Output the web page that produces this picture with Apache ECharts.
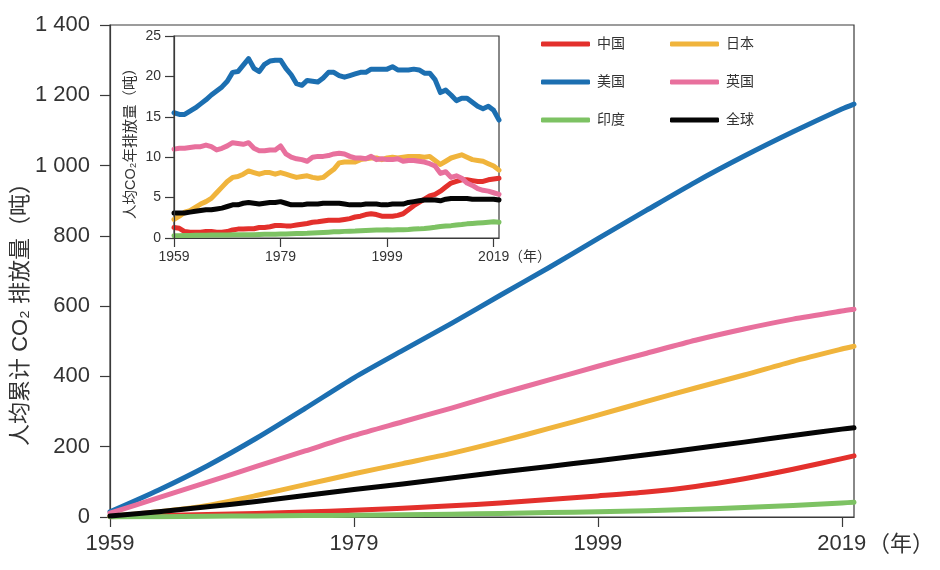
<!DOCTYPE html>
<html>
<head>
<meta charset="utf-8">
<script src="https://cdn.jsdelivr.net/npm/echarts@6/dist/echarts.min.js"></script>
<style>
html,body{margin:0;padding:0;background:#fff;}
#chart{width:940px;height:570px;}
</style>
</head>
<body>
<div id="chart"></div>
<script>
// ---------- DATA ----------
const seriesNames = ['中国', '日本', '美国', '英国', '印度', '全球'];
const seriesColors = ['#e3302c', '#f0b43c', '#1c6fb1', '#e8709d', '#7dc263', '#050505'];

// main chart: cumulative per-capita CO2 (t)
const mainYears = [1959, 1963, 1967, 1971, 1975, 1979, 1983, 1987, 1991, 1995, 1999, 2003, 2007, 2011, 2015, 2019, 2020];
const cumChina  = [1, 4, 7, 10, 14, 19, 25, 32, 40, 50, 60, 71, 87, 109, 136, 166, 174];
const cumJapan  = [2, 15, 33, 61, 92, 123, 152, 181, 215, 252, 290, 329, 367, 404, 443, 478, 486];
const cumUS     = [15, 77, 146, 224, 309, 396, 474, 551, 631, 710, 792, 873, 953, 1027, 1096, 1161, 1175];
const cumUK     = [11, 55, 99, 144, 188, 232, 271, 310, 351, 390, 429, 466, 503, 535, 563, 586, 591];
const cumIndia  = [0, 1, 2, 3, 4, 5, 6.5, 8, 10, 12.5, 15, 18, 22, 27, 33, 40, 42];
const cumGlobal = [3, 15, 29, 44, 61, 78, 94, 111, 128, 144, 160, 177, 195, 213, 232, 250, 254];

// inset: annual per-capita CO2 (t)
const annualYears = [1959,1960,1961,1962,1963,1964,1965,1966,1967,1968,1969,1970,1971,1972,1973,1974,1975,1976,1977,1978,1979,1980,1981,1982,1983,1984,1985,1986,1987,1988,1989,1990,1991,1992,1993,1994,1995,1996,1997,1998,1999,2000,2001,2002,2003,2004,2005,2006,2007,2008,2009,2010,2011,2012,2013,2014,2015,2016,2017,2018,2019,2020];
const annChina = [1.3,1.2,0.8,0.7,0.7,0.7,0.8,0.8,0.7,0.7, 0.8,1.0,1.1,1.1,1.15,1.15,1.3,1.3,1.4,1.55, 1.55,1.5,1.5,1.6,1.7,1.8,1.95,2.0,2.1,2.2, 2.2,2.2,2.3,2.4,2.6,2.7,2.9,3.0,2.9,2.7, 2.7,2.7,2.8,3.0,3.5,4.0,4.4,4.8,5.2,5.4, 5.8,6.3,6.8,7.0,7.2,7.2,7.1,7.0,7.0,7.2, 7.3,7.4];
const annJapan = [2.3,2.7,3.2,3.4,3.8,4.2,4.5,4.9,5.6,6.3, 7.0,7.5,7.6,7.9,8.3,8.1,7.9,8.1,8.1,7.9, 8.1,7.9,7.7,7.5,7.6,7.7,7.5,7.4,7.5,8.0, 8.5,9.3,9.4,9.4,9.4,9.7,9.8,9.9,9.9,9.7, 9.9,10.0,9.9,10.0,10.1,10.1,10.1,10.0,10.1,9.6, 9.1,9.5,9.9,10.1,10.3,10.0,9.7,9.6,9.5,9.2, 8.9,8.4];
const annUS = [15.5,15.3,15.3,15.7,16.1,16.6,17.1,17.7,18.2,18.7, 19.4,20.5,20.6,21.4,22.2,21.0,20.6,21.5,21.9,22.0, 22.0,21.0,20.2,19.1,18.9,19.5,19.4,19.3,19.8,20.5, 20.5,20.1,19.9,20.1,20.3,20.5,20.5,20.9,20.9,20.9, 20.9,21.2,20.8,20.8,20.8,20.9,20.8,20.4,20.4,19.6, 18.0,18.3,17.7,17.0,17.3,17.3,16.8,16.3,16.0,16.3, 15.8,14.6];
const annUK = [11.0,11.1,11.1,11.2,11.3,11.3,11.5,11.3,10.9,11.1, 11.4,11.8,11.7,11.6,11.8,11.1,10.8,10.8,10.9,10.9, 11.4,10.4,10.0,9.8,9.7,9.5,10.0,10.1,10.1,10.2, 10.4,10.5,10.4,10.1,9.9,9.9,9.8,10.1,9.7,9.8, 9.7,9.7,9.8,9.5,9.6,9.6,9.5,9.4,9.2,8.9, 8.0,8.2,7.5,7.7,7.4,6.8,6.5,6.1,5.9,5.8, 5.6,5.4];
const annIndia = [0.28,0.29,0.30,0.32,0.33,0.33,0.35,0.36,0.36,0.38, 0.38,0.39,0.39,0.40,0.41,0.41,0.44,0.45,0.47,0.47, 0.50,0.50,0.53,0.55,0.57,0.58,0.62,0.65,0.68,0.72, 0.76,0.78,0.82,0.85,0.86,0.89,0.93,0.95,0.98,0.98, 1.01,1.00,1.01,1.02,1.05,1.10,1.13,1.18,1.25,1.33, 1.43,1.48,1.53,1.62,1.66,1.75,1.80,1.85,1.90,1.95, 2.00,1.95];
const annGlobal = [3.1,3.1,3.1,3.2,3.3,3.4,3.5,3.5,3.6,3.7, 3.9,4.1,4.1,4.3,4.4,4.3,4.2,4.3,4.4,4.4, 4.5,4.3,4.1,4.1,4.1,4.2,4.2,4.2,4.3,4.3, 4.3,4.3,4.2,4.1,4.1,4.1,4.2,4.2,4.2,4.1, 4.1,4.2,4.2,4.2,4.4,4.5,4.6,4.7,4.7,4.7, 4.6,4.8,4.9,4.9,4.9,4.9,4.8,4.8,4.8,4.8, 4.8,4.7];

const xTickYears = [1959, 1979, 1999, 2019];
const mainYTicks = [0, 1400, 200];   // min, max, step
const insetYTicks = [0, 25, 5];

// ---------- CHART ----------
const FONT = "'Liberation Sans','Noto Sans CJK SC',sans-serif";
const TXT = '#333';
const AX = '#3a3a3a';

const mainCum = [cumChina, cumJapan, cumUS, cumUK, cumIndia, cumGlobal];
const insetAnn = [annChina, annJapan, annUS, annUK, annIndia, annGlobal];

function pairs(xs, ys) { return xs.map((x, i) => [x, ys[i]]); }

const series = [];
seriesNames.forEach((name, i) => {
  series.push({
    name: name, type: 'line', xAxisIndex: 0, yAxisIndex: 0,
    data: pairs(mainYears, mainCum[i]), showSymbol: false, smooth: 0.25,
    color: seriesColors[i],
    lineStyle: { width: 5, color: seriesColors[i], cap: 'round', join: 'round' },
    silent: true, z: 2
  });
});
seriesNames.forEach((name, i) => {
  series.push({
    name: name, type: 'line', xAxisIndex: 1, yAxisIndex: 1,
    data: pairs(annualYears, insetAnn[i]), showSymbol: false,
    color: seriesColors[i],
    lineStyle: { width: 5, color: seriesColors[i], cap: 'round', join: 'round' },
    silent: true, z: 5
  });
});

function fmtThousands(v) {
  const s = String(v);
  return s.length > 3 ? s.slice(0, s.length - 3) + ' ' + s.slice(s.length - 3) : s;
}
function fmtYear(v) { return String(v); }

const legendCommon = {
  orient: 'vertical', top: 37, padding: 0, itemWidth: 49, itemHeight: 5, itemGap: 24,
  icon: 'roundRect', selectedMode: false,
  textStyle: { fontSize: 14, color: TXT, fontFamily: FONT, lineHeight: 14, padding: [0, 0, 0, 2] }
};

const option = {
  animation: false,
  backgroundColor: '#fff',
  textStyle: { fontFamily: FONT },
  legend: [
    Object.assign({}, legendCommon, { left: 541, data: ['中国', '美国', '印度'] }),
    Object.assign({}, legendCommon, { left: 670, data: ['日本', '英国', '全球'] })
  ],
  grid: [
    { left: 110, top: 25, right: 86, bottom: 53, show: true, borderColor: AX, borderWidth: 1.2, backgroundColor: 'transparent' },
    { left: 174, top: 36, right: 441, bottom: 332, show: true, borderColor: AX, borderWidth: 1.2, backgroundColor: '#fff', z: 4 }
  ],
  xAxis: [
    {
      type: 'value', gridIndex: 0, min: 1959, max: 2020,
      axisLine: { show: true, lineStyle: { color: AX, width: 1.2 } },
      axisTick: { show: true, length: 10, customValues: xTickYears, lineStyle: { color: AX, width: 1.2 } },
      axisLabel: { customValues: xTickYears, fontSize: 22, color: TXT, margin: 16, fontFamily: FONT, formatter: fmtYear },
      splitLine: { show: false }
    },
    {
      type: 'value', gridIndex: 1, min: 1959, max: 2020, z: 6,
      axisLine: { show: true, lineStyle: { color: AX, width: 1.2 } },
      axisTick: { show: true, length: 9, customValues: xTickYears, lineStyle: { color: AX, width: 1.2 } },
      axisLabel: { customValues: xTickYears, fontSize: 14, color: TXT, margin: 12, fontFamily: FONT, formatter: fmtYear },
      splitLine: { show: false }
    }
  ],
  yAxis: [
    {
      type: 'value', gridIndex: 0, min: mainYTicks[0], max: mainYTicks[1], interval: mainYTicks[2],
      axisLine: { show: true, lineStyle: { color: AX, width: 1.2 } },
      axisTick: { show: true, length: 10, lineStyle: { color: AX, width: 1.2 } },
      axisLabel: { fontSize: 22, color: TXT, margin: 20, fontFamily: FONT, formatter: fmtThousands },
      splitLine: { show: false }
    },
    {
      type: 'value', gridIndex: 1, min: insetYTicks[0], max: insetYTicks[1], interval: insetYTicks[2], z: 6,
      axisLine: { show: true, lineStyle: { color: AX, width: 1.2 } },
      axisTick: { show: true, length: 9, lineStyle: { color: AX, width: 1.2 } },
      axisLabel: { fontSize: 14, color: TXT, margin: 13, fontFamily: FONT },
      splitLine: { show: false }
    }
  ],
  graphic: [
    { type: 'text', x: 21, y: 309, rotation: Math.PI / 2,
      style: { text: '人均累计 CO₂ 排放量（吨）', fontSize: 22, fill: TXT, fontFamily: FONT, textAlign: 'center', textVerticalAlign: 'middle' } },
    { type: 'text', x: 868, y: 545,
      style: { text: '（年）', fontSize: 22, fill: TXT, fontFamily: FONT, textAlign: 'left', textVerticalAlign: 'middle' } },
    { type: 'text', x: 131, y: 140, rotation: Math.PI / 2, z: 10,
      style: { text: '人均CO₂年排放量（吨）', fontSize: 14.5, fill: TXT, fontFamily: FONT, textAlign: 'center', textVerticalAlign: 'middle' } },
    { type: 'text', x: 509, y: 257, z: 10,
      style: { text: '（年）', fontSize: 14, fill: TXT, fontFamily: FONT, textAlign: 'left', textVerticalAlign: 'middle' } }
  ],
  series: series
};

const chart = echarts.init(document.getElementById('chart'), null, { renderer: 'canvas' });
chart.setOption(option);
</script>
</body>
</html>
